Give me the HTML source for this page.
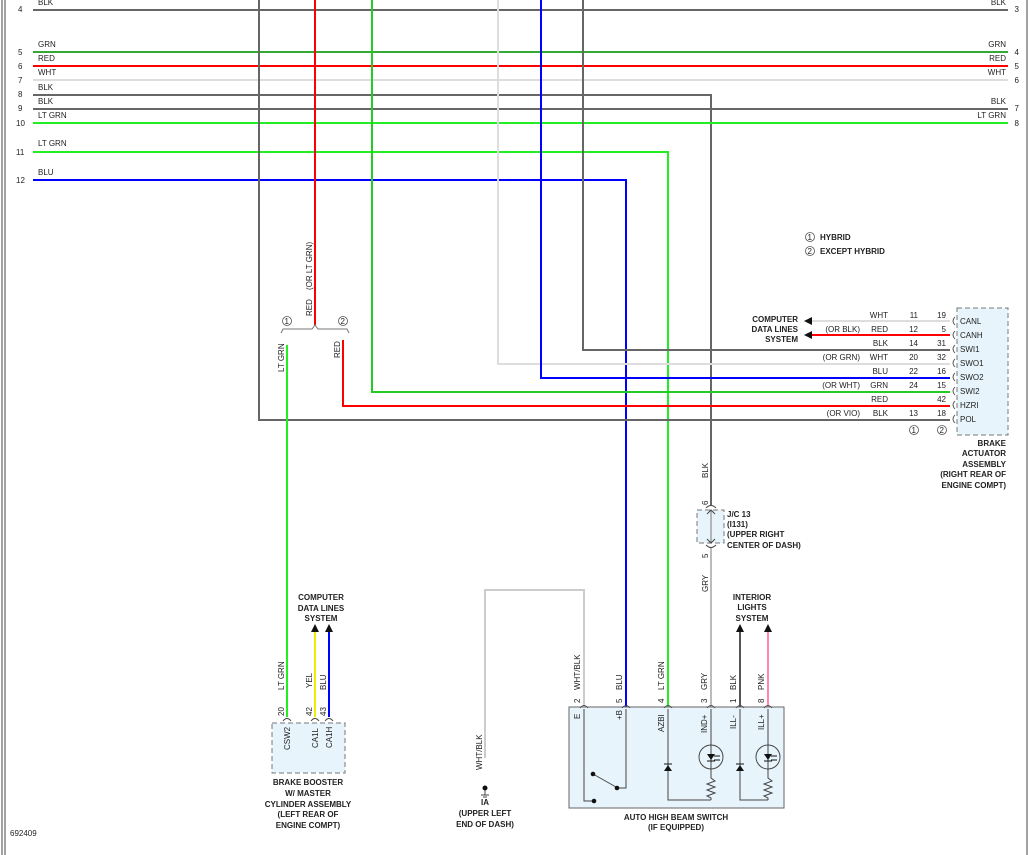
<!DOCTYPE html>
<html><head><meta charset="utf-8"><style>
html,body{margin:0;padding:0;background:#fff;}
svg{display:block;}
text{font-family:"Liberation Sans",sans-serif;font-size:8px;fill:#222;}
.b{font-weight:bold;}
</style></head><body>
<svg width="1031" height="855" viewBox="0 0 1031 855" xmlns="http://www.w3.org/2000/svg">
<line x1="2" y1="0" x2="2" y2="855" stroke="#444" stroke-width="1"/>
<line x1="5" y1="0" x2="5" y2="855" stroke="#444" stroke-width="1"/>
<line x1="1027" y1="0" x2="1027" y2="855" stroke="#444" stroke-width="1"/>

<g stroke-width="2" fill="none">
<line x1="33" y1="10" x2="1008" y2="10" stroke="#666"/>
<line x1="33" y1="52" x2="1008" y2="52" stroke="#3a3"/>
<line x1="33" y1="66" x2="1008" y2="66" stroke="#f00"/>
<line x1="33" y1="80" x2="1008" y2="80" stroke="#ddd"/>
<polyline points="33,95 711,95 711,505" stroke="#666"/>
<line x1="33" y1="109" x2="1008" y2="109" stroke="#666"/>
<line x1="33" y1="123" x2="1008" y2="123" stroke="#2e2"/>
<polyline points="33,152 668,152 668,712" stroke="#2e2"/>
<polyline points="33,180 626,180 626,712" stroke="#00f"/>
<polyline points="259,0 259,420 950,420" stroke="#666"/>
<line x1="315" y1="0" x2="315" y2="325" stroke="#f00"/>
<polyline points="372,0 372,392 950,392" stroke="#2c2"/>
<polyline points="498,0 498,364 950,364" stroke="#ddd"/>
<polyline points="541,0 541,378 950,378" stroke="#00f"/>
<polyline points="583,0 583,350 950,350" stroke="#666"/>
<line x1="287" y1="345" x2="287" y2="717" stroke="#2e2"/>
<polyline points="343,340 343,406 950,406" stroke="#f00"/>
<line x1="950" y1="321" x2="812" y2="321" stroke="#ddd"/>
<line x1="950" y1="335" x2="812" y2="335" stroke="#f00"/>
<line x1="711" y1="548" x2="711" y2="712" stroke="#bbb"/>
<polyline points="485,758 485,590 584,590 584,712" stroke="#ccc"/>
<line x1="315" y1="630" x2="315" y2="717" stroke="#ee0"/>
<line x1="329" y1="630" x2="329" y2="717" stroke="#00f"/>
<line x1="740" y1="630" x2="740" y2="712" stroke="#555"/>
<line x1="768" y1="630" x2="768" y2="712" stroke="#f8a"/>
</g>
<polygon points="804,321 812,317 812,325" fill="#111"/>
<polygon points="804,335 812,331 812,339" fill="#111"/>
<polygon points="315,624 311,632 319,632" fill="#111"/>
<polygon points="329,624 325,632 333,632" fill="#111"/>
<polygon points="740,624 736,632 744,632" fill="#111"/>
<polygon points="768,624 764,632 772,632" fill="#111"/>

<g>
<text x="18" y="12">4</text><text x="38" y="5">BLK</text>
<text x="18" y="55">5</text><text x="38" y="47">GRN</text>
<text x="18" y="69">6</text><text x="38" y="61">RED</text>
<text x="18" y="83">7</text><text x="38" y="75">WHT</text>
<text x="18" y="97">8</text><text x="38" y="90">BLK</text>
<text x="18" y="111">9</text><text x="38" y="104">BLK</text>
<text x="16" y="126">10</text><text x="38" y="118">LT GRN</text>
<text x="16" y="155">11</text><text x="38" y="146">LT GRN</text>
<text x="16" y="183">12</text><text x="38" y="175">BLU</text>
</g>
<g text-anchor="end">
<text x="1006" y="5">BLK</text><text x="1019" y="12">3</text>
<text x="1006" y="47">GRN</text><text x="1019" y="55">4</text>
<text x="1006" y="61">RED</text><text x="1019" y="69">5</text>
<text x="1006" y="75">WHT</text><text x="1019" y="83">6</text>
<text x="1006" y="104">BLK</text><text x="1019" y="111">7</text>
<text x="1006" y="118">LT GRN</text><text x="1019" y="126">8</text>
</g>

<circle cx="810" cy="237" r="4.5" fill="none" stroke="#555" stroke-width="0.8"/><text x="807.5" y="240" font-size="7">1</text>
<text x="820" y="240" class="b">HYBRID</text>
<circle cx="810" cy="251" r="4.5" fill="none" stroke="#555" stroke-width="0.8"/><text x="807.5" y="254" font-size="7">2</text>
<text x="820" y="254" class="b">EXCEPT HYBRID</text>

<path d="M281,333 L283,329 L312,329 L315,325 L318,329 L347,329 L349,333" fill="none" stroke="#777" stroke-width="1"/>
<circle cx="287" cy="321" r="4.5" fill="none" stroke="#555" stroke-width="0.8"/><text x="284.5" y="324" font-size="7">1</text>
<circle cx="343" cy="321" r="4.5" fill="none" stroke="#555" stroke-width="0.8"/><text x="340.5" y="324" font-size="7">2</text>
<text transform="translate(312,316) rotate(-90)">RED</text>
<text transform="translate(312,290) rotate(-90)">(OR LT GRN)</text>
<text transform="translate(284,372) rotate(-90)">LT GRN</text>
<text transform="translate(340,358) rotate(-90)">RED</text>

<rect x="957" y="308" width="51" height="127" fill="#e8f4fb" stroke="#777" stroke-dasharray="5,3"/>
<g>
<text x="960" y="324">CANL</text><text x="960" y="338">CANH</text><text x="960" y="352">SWI1</text>
<text x="960" y="366">SWO1</text><text x="960" y="380">SWO2</text><text x="960" y="394">SWI2</text>
<text x="960" y="408">HZRI</text><text x="960" y="422">POL</text>
</g>
<g fill="none" stroke="#444" stroke-width="0.8">
<path d="M955,317 q-4,4 0,8"/><path d="M955,331 q-4,4 0,8"/><path d="M955,345 q-4,4 0,8"/><path d="M955,359 q-4,4 0,8"/>
<path d="M955,373 q-4,4 0,8"/><path d="M955,387 q-4,4 0,8"/><path d="M955,401 q-4,4 0,8"/><path d="M955,415 q-4,4 0,8"/>
</g>
<g text-anchor="end">
<text x="888" y="318">WHT</text><text x="918" y="318">11</text><text x="946" y="318">19</text>
<text x="888" y="332">RED</text><text x="918" y="332">12</text><text x="946" y="332">5</text>
<text x="888" y="346">BLK</text><text x="918" y="346">14</text><text x="946" y="346">31</text>
<text x="888" y="360">WHT</text><text x="918" y="360">20</text><text x="946" y="360">32</text>
<text x="888" y="374">BLU</text><text x="918" y="374">22</text><text x="946" y="374">16</text>
<text x="888" y="388">GRN</text><text x="918" y="388">24</text><text x="946" y="388">15</text>
<text x="888" y="402">RED</text><text x="946" y="402">42</text>
<text x="888" y="416">BLK</text><text x="918" y="416">13</text><text x="946" y="416">18</text>
<text x="860" y="332">(OR BLK)</text><text x="860" y="360">(OR GRN)</text>
<text x="860" y="388">(OR WHT)</text><text x="860" y="416">(OR VIO)</text>
<text x="798" y="322" class="b">COMPUTER</text><text x="798" y="332" class="b">DATA LINES</text><text x="798" y="342" class="b">SYSTEM</text>
<text x="1006" y="446" class="b">BRAKE</text><text x="1006" y="456" class="b">ACTUATOR</text>
<text x="1006" y="467" class="b">ASSEMBLY</text><text x="1006" y="477" class="b">(RIGHT REAR OF</text>
<text x="1006" y="488" class="b">ENGINE COMPT)</text>
</g>
<circle cx="914" cy="430" r="4.5" fill="none" stroke="#555" stroke-width="0.8"/><text x="911.5" y="433" font-size="7">1</text>
<circle cx="942" cy="430" r="4.5" fill="none" stroke="#555" stroke-width="0.8"/><text x="939.5" y="433" font-size="7">2</text>

<rect x="697" y="510" width="27" height="33" fill="#e8f4fb" stroke="#777" stroke-dasharray="5,3"/>
<line x1="711" y1="510" x2="711" y2="543" stroke="#777" stroke-width="1"/>
<path d="M707,514 l4,-4 l4,4 M707,539 l4,4 l4,-4" fill="none" stroke="#444"/>
<path d="M706,508 q5,-5 10,0 M706,545 q5,5 10,0" fill="none" stroke="#444"/>
<text transform="translate(708,478) rotate(-90)">BLK</text>
<text transform="translate(708,505) rotate(-90)" fill="#a50">6</text>
<text transform="translate(708,558) rotate(-90)">5</text>
<text transform="translate(708,592) rotate(-90)">GRY</text>
<text x="727" y="517" class="b">J/C 13</text><text x="727" y="527" class="b">(I131)</text>
<text x="727" y="537" class="b">(UPPER RIGHT</text><text x="727" y="548" class="b">CENTER OF DASH)</text>

<rect x="272" y="723" width="73" height="50" fill="#e8f4fb" stroke="#777" stroke-dasharray="5,3"/>
<path d="M283,721 q4,-5 8,0 M311,721 q4,-5 8,0 M325,721 q4,-5 8,0" fill="none" stroke="#444"/>
<text x="321" y="600" class="b" text-anchor="middle">COMPUTER</text>
<text x="321" y="611" class="b" text-anchor="middle">DATA LINES</text>
<text x="321" y="621" class="b" text-anchor="middle">SYSTEM</text>
<text transform="translate(284,690) rotate(-90)">LT GRN</text>
<text transform="translate(312,688) rotate(-90)">YEL</text>
<text transform="translate(326,690) rotate(-90)">BLU</text>
<text transform="translate(284,716) rotate(-90)">20</text>
<text transform="translate(312,716) rotate(-90)">42</text>
<text transform="translate(326,716) rotate(-90)">43</text>
<text transform="translate(290,750) rotate(-90)">CSW2</text>
<text transform="translate(318,748) rotate(-90)">CA1L</text>
<text transform="translate(332,748) rotate(-90)">CA1H</text>
<g text-anchor="middle">
<text x="308" y="785" class="b">BRAKE BOOSTER</text><text x="308" y="796" class="b">W/ MASTER</text>
<text x="308" y="807" class="b">CYLINDER ASSEMBLY</text><text x="308" y="817" class="b">(LEFT REAR OF</text>
<text x="308" y="828" class="b">ENGINE COMPT)</text>
</g>

<text transform="translate(482,770) rotate(-90)">WHT/BLK</text>
<circle cx="485" cy="788" r="2.5" fill="#111"/>
<line x1="485" y1="790" x2="485" y2="795" stroke="#444"/>
<line x1="481" y1="795" x2="489" y2="795" stroke="#444"/><line x1="483" y1="797" x2="487" y2="797" stroke="#444"/>
<g text-anchor="middle">
<text x="485" y="805" class="b">IA</text><text x="485" y="816" class="b">(UPPER LEFT</text><text x="485" y="827" class="b">END OF DASH)</text>
</g>

<rect x="569" y="707" width="215" height="101" fill="#e8f4fb" stroke="#666"/>
<g fill="none" stroke="#444" stroke-width="0.8">
<path d="M580,708 q4,-5 8,0 M622,708 q4,-5 8,0 M664,708 q4,-5 8,0 M707,708 q4,-5 8,0 M736,708 q4,-5 8,0 M764,708 q4,-5 8,0"/>
</g>
<g fill="none" stroke="#444" stroke-width="1">
<polyline points="584,709 584,801 594,801"/>
<polyline points="626,709 626,788 618,788"/>
<line x1="593" y1="774" x2="616" y2="787"/>
<polyline points="668,709 668,800 711,800"/>
<path d="M711,709 L711,778 l4,3 l-8,3 l8,3 l-8,3 l8,3 l-8,3 l4,2 L711,800"/>
<polyline points="740,709 740,800 768,800"/>
<path d="M768,709 L768,778 l4,3 l-8,3 l8,3 l-8,3 l8,3 l-8,3 l4,2 L768,800"/>
<circle cx="711" cy="757" r="12"/><circle cx="768" cy="757" r="12"/>
</g>
<circle cx="593" cy="774" r="2.3" fill="#111"/><circle cx="617" cy="788" r="2.3" fill="#111"/><circle cx="594" cy="801" r="2.3" fill="#111"/>
<polygon points="664,771 672,771 668,765" fill="#111"/><line x1="664" y1="764" x2="672" y2="764" stroke="#111"/>
<polygon points="736,771 744,771 740,765" fill="#111"/><line x1="736" y1="764" x2="744" y2="764" stroke="#111"/>
<polygon points="707,754 715,754 711,760" fill="#111"/><line x1="707" y1="761" x2="715" y2="761" stroke="#111"/>
<polygon points="764,754 772,754 768,760" fill="#111"/><line x1="764" y1="761" x2="772" y2="761" stroke="#111"/>
<path d="M714,756 h6 M714,760 h6 M771,756 h6 M771,760 h6" stroke="#111"/>
<text transform="translate(580,690) rotate(-90)">WHT/BLK</text>
<text transform="translate(622,690) rotate(-90)">BLU</text>
<text transform="translate(664,690) rotate(-90)">LT GRN</text>
<text transform="translate(707,690) rotate(-90)">GRY</text>
<text transform="translate(736,690) rotate(-90)">BLK</text>
<text transform="translate(764,690) rotate(-90)">PNK</text>
<text transform="translate(580,703) rotate(-90)">2</text>
<text transform="translate(622,703) rotate(-90)">5</text>
<text transform="translate(664,703) rotate(-90)">4</text>
<text transform="translate(707,703) rotate(-90)">3</text>
<text transform="translate(736,703) rotate(-90)">1</text>
<text transform="translate(764,703) rotate(-90)">8</text>
<text transform="translate(580,719) rotate(-90)">E</text>
<text transform="translate(622,720) rotate(-90)">+B</text>
<text transform="translate(664,732) rotate(-90)">AZBI</text>
<text transform="translate(707,733) rotate(-90)">IND+</text>
<text transform="translate(736,729) rotate(-90)">ILL-</text>
<text transform="translate(764,730) rotate(-90)">ILL+</text>
<g text-anchor="middle">
<text x="752" y="600" class="b">INTERIOR</text><text x="752" y="610" class="b">LIGHTS</text><text x="752" y="621" class="b">SYSTEM</text>
<text x="676" y="820" class="b">AUTO HIGH BEAM SWITCH</text><text x="676" y="830" class="b">(IF EQUIPPED)</text>
</g>
<text x="10" y="836">692409</text>
</svg>
</body></html>
